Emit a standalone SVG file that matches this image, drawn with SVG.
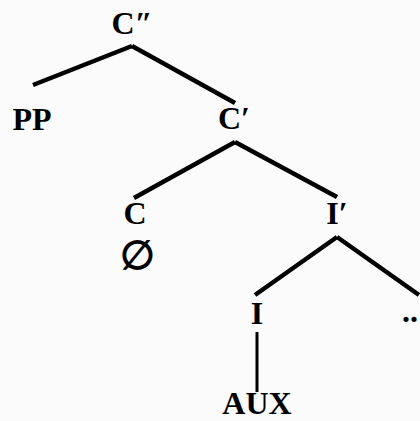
<svg xmlns="http://www.w3.org/2000/svg" width="420" height="421" viewBox="0 0 420 421">
<style>
text{font-family:"Liberation Serif","DejaVu Serif",serif;font-size:32px;font-weight:bold;fill:#000;text-anchor:middle}
.e{stroke:#000;stroke-width:4.5;stroke-linecap:butt;fill:none}
.thin{stroke-width:3}
</style>
<rect width="420" height="421" fill="#fbfbfb"/>
<g id="connectors">
<line class="e" x1="132" y1="46" x2="33" y2="85"/>
<line class="e" x1="132" y1="46" x2="235" y2="103"/>
<line class="e" x1="235" y1="142" x2="134" y2="198"/>
<line class="e" x1="235" y1="142" x2="337" y2="197"/>
<line class="e" x1="337" y1="237" x2="255" y2="295"/>
<line class="e" x1="337" y1="237" x2="419" y2="295"/>
<line class="e thin" x1="257" y1="332" x2="257" y2="392"/>
</g>
<g id="n-cpp"><text x="132" y="34">C″</text></g>
<g id="n-pp"><text x="32" y="130">PP</text></g>
<g id="n-cp"><text x="234" y="129">C′</text></g>
<g id="n-c"><text x="135" y="224">C</text></g>
<g id="n-null"><text x="137" y="269" style="font-size:40px">∅</text></g>
<g id="n-ip"><text x="337" y="224">I′</text></g>
<g id="n-i"><text x="257" y="324">I</text></g>
<g id="n-dots"><text x="402" y="322" style="text-anchor:start">..</text></g>
<g id="n-aux"><text x="257" y="414">AUX</text></g>
</svg>
